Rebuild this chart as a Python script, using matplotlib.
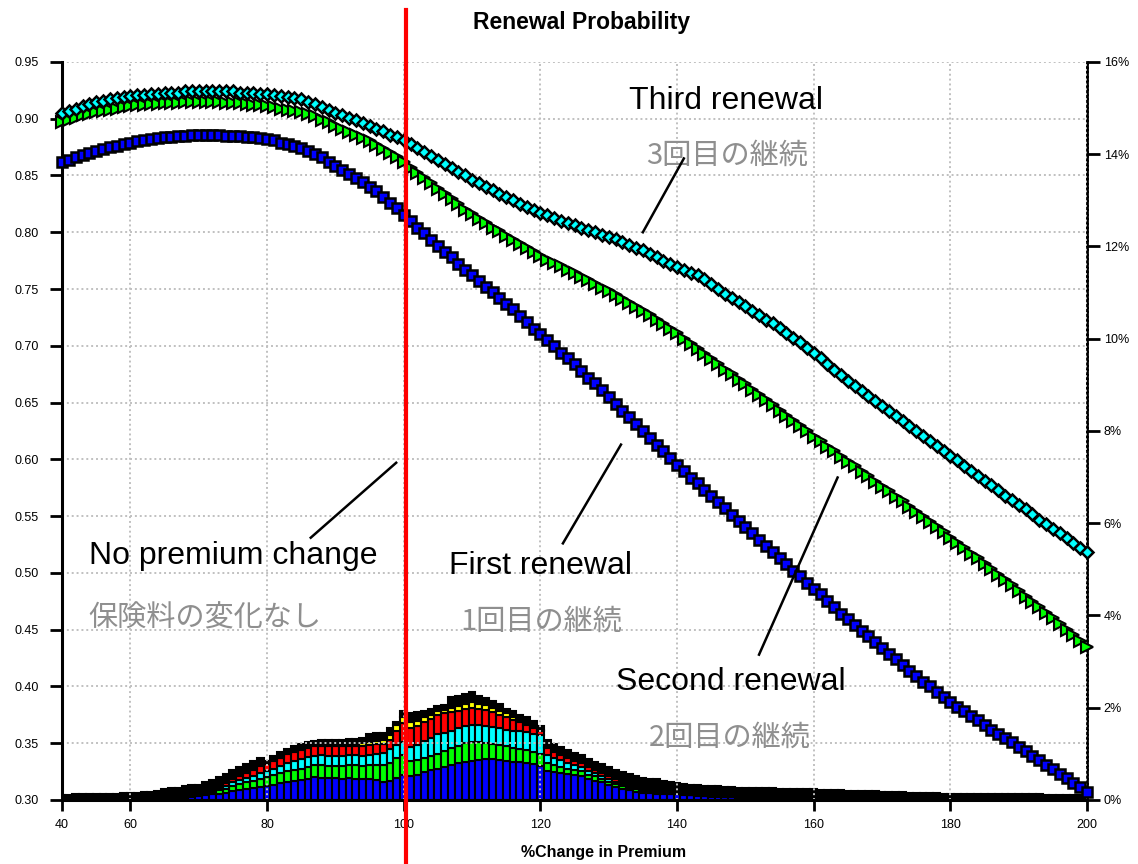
import numpy as np
import matplotlib
matplotlib.use("Agg")
import matplotlib.pyplot as plt

plt.rcParams["font.family"] = ["Liberation Sans", "Noto Sans CJK JP", "DejaVu Sans"]

# %Change in Premium, one point / bar per unit
premium = np.arange(50, 201)
tick_pos = [50, 60, 80, 100, 120, 140, 160, 180, 200]
tick_lab = ["40", "60", "80", "100", "120", "140", "160", "180", "200"]

first_renewal = [
    .862, .864, .866, .868, .870, .872, .873, .875, .876, .878,
    .879, .880, .881, .882, .883, .884, .884, .885, .885, .886,
    .886, .886, .886, .886, .885, .885, .885, .884, .884, .883,
    .882, .881, .879, .878, .876, .874, .872, .869, .866, .862,
    .858, .855, .851, .848, .844, .840, .836, .831, .826, .821,
    .815, .810, .804, .799, .793, .788, .783, .778, .772, .767,
    .762, .757, .752, .747, .742, .737, .732, .726, .721, .715,
    .710, .705, .700, .694, .689, .684, .678, .672, .667, .661,
    .655, .649, .643, .637, .631, .625, .619, .613, .607, .601,
    .595, .590, .584, .579, .573, .568, .562, .557, .551, .546,
    .540, .535, .529, .524, .518, .513, .508, .502, .497, .491,
    .486, .481, .475, .470, .464, .459, .454, .449, .444, .439,
    .434, .429, .424, .419, .414, .409, .404, .400, .395, .391,
    .386, .382, .378, .374, .370, .366, .362, .358, .355, .351,
    .347, .343, .339, .335, .331, .327, .323, .319, .315, .311,
    .307,
]
second_renewal = [
    .897, .899, .901, .903, .904, .906, .907, .908, .909, .910,
    .911, .912, .912, .913, .913, .914, .914, .914, .915, .915,
    .915, .915, .915, .915, .914, .914, .914, .913, .912, .912,
    .911, .910, .909, .908, .907, .906, .904, .902, .899, .897,
    .894, .891, .888, .886, .883, .880, .877, .873, .870, .866,
    .862, .857, .852, .848, .843, .838, .834, .829, .825, .820,
    .816, .812, .808, .804, .801, .797, .793, .790, .786, .783,
    .779, .776, .773, .770, .767, .764, .761, .758, .754, .751,
    .748, .745, .741, .738, .734, .731, .727, .723, .719, .715,
    .711, .706, .702, .697, .693, .688, .684, .679, .675, .670,
    .666, .661, .657, .652, .648, .643, .638, .634, .629, .625,
    .620, .616, .611, .607, .602, .598, .594, .589, .585, .580,
    .576, .572, .567, .563, .558, .554, .549, .545, .540, .536,
    .531, .526, .522, .517, .513, .508, .503, .498, .494, .489,
    .484, .479, .474, .470, .465, .460, .455, .450, .445, .440,
    .435,
]
third_renewal = [
    .905, .907, .909, .911, .913, .915, .916, .917, .918, .919,
    .920, .921, .921, .922, .922, .923, .923, .923, .924, .924,
    .924, .924, .924, .924, .924, .924, .923, .923, .923, .922,
    .922, .921, .920, .919, .918, .917, .915, .913, .910, .908,
    .905, .903, .901, .899, .896, .894, .891, .889, .886, .884,
    .881, .878, .874, .871, .867, .864, .860, .857, .853, .850,
    .846, .843, .840, .837, .834, .831, .828, .825, .822, .820,
    .817, .815, .813, .810, .808, .806, .804, .802, .800, .798,
    .796, .794, .791, .789, .786, .784, .781, .778, .775, .772,
    .769, .767, .764, .762, .759, .754, .750, .746, .742, .739,
    .735, .731, .727, .723, .720, .716, .711, .707, .703, .698,
    .694, .689, .684, .679, .674, .669, .665, .660, .656, .651,
    .647, .643, .638, .634, .629, .625, .621, .616, .612, .607,
    .603, .599, .594, .590, .585, .581, .577, .573, .568, .564,
    .560, .556, .552, .547, .543, .539, .535, .531, .526, .522,
    .518,
]

# distribution of policies (%), stacked: blue, green, cyan, red, yellow, black
dist_blue = [
    0, 0, 0, 0, 0, 0, 0, 0, 0, 0,
    0, 0, 0, .01, .01, .02, .02, .03, .04, .06,
    .08, .10, .12, .14, .16, .20, .22, .24, .26, .28,
    .30, .33, .36, .39, .41, .43, .46, .49, .48, .47,
    .47, .46, .47, .46, .45, .46, .44, .40, .42, .48,
    .55, .52, .55, .60, .64, .68, .72, .76, .80, .83,
    .85, .87, .88, .88, .87, .85, .83, .82, .80, .77,
    .74, .62, .60, .58, .56, .55, .52, .46, .42, .38,
    .32, .28, .24, .21, .18, .16, .15, .14, .13, .12,
    .12, .11, .10, .09, .08, .07, .07, .06, .06, .05,
    .05, .05, .04, .04, .04, .04, .03, .03, .03, .03,
    .03, .03, .03, .02, .02, .02, .02, .02, .02, .02,
    .02, .02, .02, .02, .01, .01, .01, .01, .01, .01,
    .01, .01, .01, .01, .01, .01, .01, .01, .01, .01,
    .01, .01, .01, .01, .01, .01, .01, .01, .01, .01,
    .01,
]
dist_green = [
    0, 0, 0, 0, 0, 0, 0, 0, 0, 0,
    0, 0, 0, 0, .01, .01, .02, .02, .03, .03,
    .04, .05, .06, .07, .08, .10, .12, .14, .16, .18,
    .20, .21, .22, .23, .24, .25, .26, .26, .27, .27,
    .27, .28, .28, .29, .29, .30, .32, .35, .38, .42,
    .43, .33, .32, .32, .32, .32, .34, .36, .38, .40,
    .41, .38, .36, .34, .32, .31, .30, .29, .28, .27,
    .26, .18, .16, .14, .12, .10, .10, .09, .09, .08,
    .08, .07, .06, .05, .05, .04, .03, .03, .02, .02,
    .02, .02, .01, .01, .01, .01, .01, 0, 0, 0,
] + [0] * 51
dist_cyan = [
    0, 0, 0, 0, 0, 0, 0, 0, 0, 0,
    0, 0, 0, 0, 0, .01, .01, .01, .02, .02,
    .03, .04, .04, .05, .06, .08, .09, .10, .11, .12,
    .12, .14, .16, .18, .19, .20, .21, .21, .22, .22,
    .22, .22, .22, .22, .22, .22, .24, .26, .30, .30,
    .28, .30, .33, .36, .39, .42, .40, .38, .37, .37,
    .37, .37, .37, .36, .36, .36, .37, .38, .39, .40,
    .40, .18, .16, .14, .12, .10, .09, .08, .07, .06,
    .06, .05, .04, .04, .03, .03, .02, .02, .01, .01,
    .01, .01, 0, 0, 0, 0, 0, 0, 0, 0,
] + [0] * 51
dist_red = [
    0, 0, 0, 0, 0, 0, 0, 0, 0, 0,
    0, 0, 0, 0, 0, .01, .01, .01, .02, .02,
    .03, .03, .04, .05, .06, .07, .09, .11, .13, .15,
    .16, .17, .18, .19, .20, .20, .20, .20, .20, .20,
    .20, .21, .21, .21, .22, .22, .22, .21, .20, .30,
    .40, .40, .40, .41, .41, .42, .42, .40, .38, .37,
    .37, .36, .34, .32, .30, .28, .24, .20, .15, .12,
    .10, .14, .13, .12, .11, .10, .09, .08, .07, .06,
    .06, .05, .04, .04, .03, .03, .02, .02, .01, .01,
    .01, .01, 0, 0, 0, 0, 0, 0, 0, 0,
] + [0] * 51
dist_yellow = [
    0, 0, 0, 0, 0, 0, 0, 0, 0, 0,
    0, 0, 0, 0, 0, 0, 0, 0, 0, 0,
    .01, .01, .01, .01, .02, .02, .02, .02, .02, .02,
    .02, .02, .03, .03, .03, .04, .03, .03, .03, .03,
    .03, .03, .04, .04, .05, .05, .06, .08, .10, .12,
    .14, .15, .12, .10, .09, .08, .08, .09, .10, .11,
    .12, .11, .10, .09, .08, .08, .06, .05, .04, .03,
    .02, .03, .03, .02, .02, .02, .02, .01, .01, .01,
    .01, .01, .01, 0, 0, 0, 0, 0, 0, 0,
] + [0] * 61
dist_black = [
    .11, .11, .12, .12, .12, .13, .13, .14, .14, .15,
    .16, .16, .17, .17, .18, .18, .19, .19, .20, .20,
    .14, .15, .16, .17, .18, .19, .18, .17, .16, .15,
    .05, .08, .08, .09, .10, .10, .10, .09, .10, .11,
    .11, .11, .10, .11, .11, .17, .17, .15, .15, .06,
    .13, .18, .18, .14, .12, .12, .10, .25, .22, .22,
    .22, .16, .15, .16, .14, .10, .12, .10, .14, .13,
    .08, .15, .14, .15, .15, .15, .16, .17, .17, .19,
    .19, .20, .21, .22, .23, .22, .24, .24, .24, .23,
    .20, .20, .22, .22, .22, .22, .22, .22, .22, .22,
    .22, .21, .21, .21, .21, .20, .21, .20, .20, .20,
    .20, .19, .19, .19, .19, .18, .18, .18, .18, .17,
    .16, .16, .15, .15, .15, .14, .14, .14, .14, .13,
    .13, .13, .13, .12, .12, .12, .12, .12, .11, .11,
    .11, .11, .11, .11, .10, .10, .10, .10, .10, .10,
    .10,
]

fig = plt.figure(figsize=(11.38, 8.64), dpi=100)
ax = fig.add_axes([0.0545, 0.0741, 0.9007, 0.8542])
ax2 = ax.twinx()
ax.set_zorder(ax2.get_zorder() + 1)
ax.patch.set_visible(False)

# stacked distribution bars on the % axis
bottom = np.zeros(len(premium))
for vals, col in [(dist_blue, "#0000ff"), (dist_green, "#00ff00"),
                  (dist_cyan, "#00ffff"), (dist_red, "#ff0000"),
                  (dist_yellow, "#ffff00"), (dist_black, "#000000")]:
    ax2.bar(premium, vals, bottom=bottom, width=1.0, color=col,
            edgecolor="black", linewidth=1.5)
    bottom += np.array(vals)

ax2.set_ylim(0, 16)
ax2.set_yticks(range(0, 17, 2))
ax2.set_yticklabels([f"{v}%" for v in range(0, 17, 2)], fontsize=9)
ax2.tick_params(axis="y", length=9, width=2, pad=3)
for s in ["top", "left", "bottom"]:
    ax2.spines[s].set_visible(False)
ax2.spines["right"].set_linestyle((0, (1, 0.6)))
ax2.spines["right"].set_linewidth(2)

ax.plot(premium, first_renewal, ls="none", marker="s", ms=7, mfc="#0000ff",
        mec="black", mew=1.8, zorder=3, clip_on=False)
ax.plot(premium, second_renewal, ls="none", marker=">", ms=8.5, mfc="#00ff00",
        mec="black", mew=1.5, zorder=4, clip_on=False)
ax.plot(premium, third_renewal, ls="none", marker="D", ms=6, mfc="#00ffff",
        mec="black", mew=1.8, zorder=5, clip_on=False)

ax.set_xlim(50, 200)
ax.set_ylim(0.30, 0.95)
ax.set_xticks(tick_pos)
ax.set_xticklabels(tick_lab, fontsize=9)
ax.set_yticks(np.arange(0.30, 0.951, 0.05))
ax.set_yticklabels([f"{v:.2f}" for v in np.arange(0.30, 0.951, 0.05)], fontsize=9)
ax.tick_params(axis="y", length=9, width=2, pad=8)
ax.tick_params(axis="x", length=8, width=2, pad=6)
ax.grid(True, color="#c0c0c0", linestyle=(0, (1, 1.5)), linewidth=1.4, zorder=1)
ax.set_axisbelow(True)
for s in ["top", "right"]:
    ax.spines[s].set_visible(False)
ax.spines["left"].set_linewidth(2.2)
ax.spines["bottom"].set_linewidth(2.2)

ax.set_title("Renewal Probability", fontsize=16.5, fontweight="bold", pad=24,
             x=0.507)
ax.set_xlabel("%Change in Premium", fontsize=11.5, fontweight="bold")
ax.xaxis.set_label_coords(0.528, -0.061)

# no premium change marker
ax.axvline(100.3, ymin=-0.087, ymax=1.071, color="#ff0000", lw=3,
           clip_on=False, zorder=10)

# annotations
lab_kw = dict(fontsize=23, color="black", ha="left", va="center", zorder=11)
jp_kw = dict(fontsize=21, color="#8f8f8f", ha="left", va="center", zorder=11,
             family=["Noto Sans CJK JP"])
ax.text(53.9, 0.515, "No premium change", **lab_kw)
ax.text(53.9, 0.460, "保険料の変化なし", **jp_kw)
ax.text(106.7, 0.506, "First renewal", **lab_kw)
ax.text(108.3, 0.457, "1回目の継続", **jp_kw)
ax.text(131.0, 0.404, "Second renewal", **lab_kw)
ax.text(135.9, 0.355, "2回目の継続", **jp_kw)
ax.text(133.0, 0.916, "Third renewal", **lab_kw)
ax.text(135.5, 0.867, "3回目の継続", **jp_kw)

line_kw = dict(color="black", lw=1.8, zorder=11)
ax.plot([86.4, 98.9], [0.531, 0.597], **line_kw)
ax.plot([123.3, 131.8], [0.526, 0.613], **line_kw)
ax.plot([152.0, 163.5], [0.428, 0.584], **line_kw)
ax.plot([135.0, 141.0], [0.800, 0.865], **line_kw)

fig.savefig("out.png", dpi=100)
